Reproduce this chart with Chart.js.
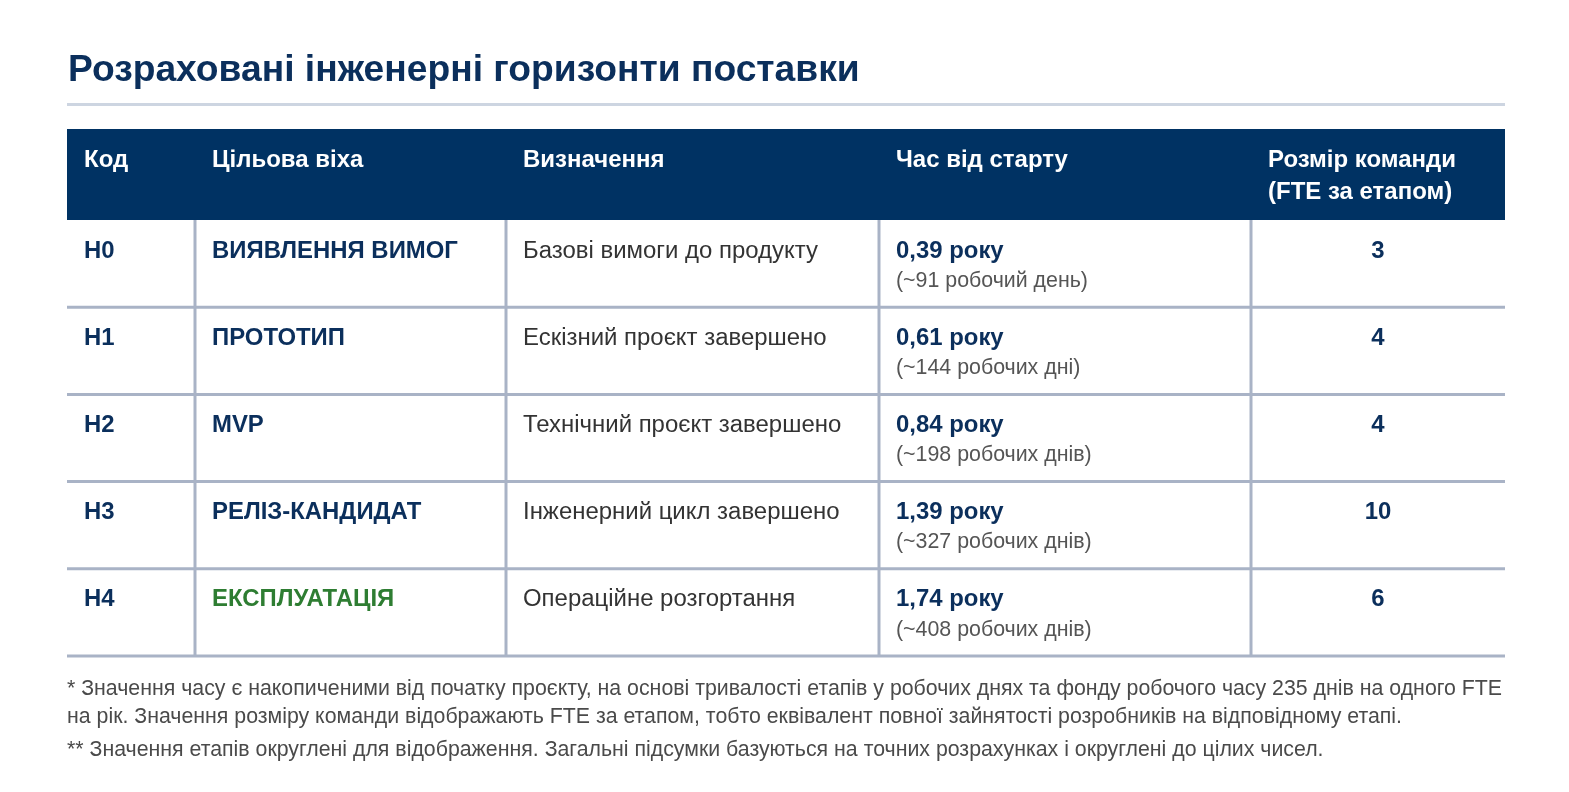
<!DOCTYPE html>
<html>
<head>
<meta charset="utf-8">
<script src="https://cdn.jsdelivr.net/npm/chart.js@4"></script>
<style>
  body { margin: 0; background: #fff; }
</style>
</head>
<body>
<canvas id="tbl" width="1569" height="792"></canvas>
<script>
// table content
const title = 'Розраховані інженерні горизонти поставки';
const headers = [['Код'], ['Цільова віха'], ['Визначення'], ['Час від старту'], ['Розмір команди', '(FTE за етапом)']];
const codes = ['H0', 'H1', 'H2', 'H3', 'H4'];
const milestones = ['ВИЯВЛЕННЯ ВИМОГ', 'ПРОТОТИП', 'MVP', 'РЕЛІЗ-КАНДИДАТ', 'ЕКСПЛУАТАЦІЯ'];
const definitions = ['Базові вимоги до продукту', 'Ескізний проєкт завершено', 'Технічний проєкт завершено', 'Інженерний цикл завершено', 'Операційне розгортання'];
const years = ['0,39 року', '0,61 року', '0,84 року', '1,39 року', '1,74 року'];
const workdays = ['(~91 робочий день)', '(~144 робочих дні)', '(~198 робочих днів)', '(~327 робочих днів)', '(~408 робочих днів)'];
const teamSizes = [3, 4, 4, 10, 6];
const footnotes = [
  '* Значення часу є накопиченими від початку проєкту, на основі тривалості етапів у робочих днях та фонду робочого часу 235 днів на одного FTE',
  'на рік. Значення розміру команди відображають FTE за етапом, тобто еквівалент повної зайнятості розробників на відповідному етапі.',
  '** Значення етапів округлені для відображення. Загальні підсумки базуються на точних розрахунках і округлені до цілих чисел.'
];

// layout
const colEdges = [67, 195, 506, 879, 1251, 1505];
const headTop = 129, bodyTop = 220, rowH = 87.2;
const navy = '#0b2f5c', headBg = '#003263', grid = '#a9b3c6';
const FONT = '"Liberation Sans", Arial, sans-serif';

// pick a font size so that a sample string has the width seen in the reference
function fitSize(ctx, weight, sample, width) {
  ctx.font = weight + ' 20px ' + FONT;
  return 20 * width / ctx.measureText(sample).width;
}

const tablePlugin = {
  id: 'table',
  afterDraw(chart) {
    const ctx = chart.ctx, sx = chart.scales.x, sy = chart.scales.y;
    const X = v => sx.getPixelForValue(v), Y = v => sy.getPixelForValue(v);
    ctx.save();
    const fTitle = 'bold ' + fitSize(ctx, 'bold', title, 792) + 'px ' + FONT;
    const fHead = 'bold ' + fitSize(ctx, 'bold', 'Час від старту', 172) + 'px ' + FONT;
    const fBold = 'bold ' + fitSize(ctx, 'bold', milestones[0], 246) + 'px ' + FONT;
    const fBody = 'normal ' + fitSize(ctx, 'normal', definitions[0], 295) + 'px ' + FONT;
    const fSub = 'normal ' + fitSize(ctx, 'normal', workdays[0], 192) + 'px ' + FONT;
    const fFoot = 'normal ' + fitSize(ctx, 'normal', footnotes[0], 1436) + 'px ' + FONT;
    ctx.textBaseline = 'middle';

    // title + rule
    ctx.fillStyle = navy;
    ctx.font = fTitle;
    ctx.fillText(title, X(68), Y(71));
    ctx.fillStyle = '#cdd5e1';
    ctx.fillRect(X(67), Y(103), X(1505) - X(67), 3);

    // header
    ctx.fillStyle = headBg;
    ctx.fillRect(X(colEdges[0]), Y(headTop), X(colEdges[5]) - X(colEdges[0]), Y(bodyTop) - Y(headTop));
    ctx.fillStyle = '#fff';
    ctx.font = fHead;
    headers.forEach((h, i) => h.forEach((line, j) => ctx.fillText(line, X(colEdges[i] + 17), Y(160 + j * 32))));

    // rows
    const bottom = bodyTop + rowH * codes.length;
    ctx.strokeStyle = grid;
    ctx.lineWidth = 3;
    for (let r = 1; r <= codes.length; r++) {
      ctx.beginPath(); ctx.moveTo(X(colEdges[0]), Y(bodyTop + r * rowH)); ctx.lineTo(X(colEdges[5]), Y(bodyTop + r * rowH)); ctx.stroke();
    }
    for (let c = 1; c < colEdges.length - 1; c++) {
      ctx.beginPath(); ctx.moveTo(X(colEdges[c]), Y(bodyTop)); ctx.lineTo(X(colEdges[c]), Y(bottom)); ctx.stroke();
    }
    codes.forEach((code, r) => {
      const y0 = bodyTop + r * rowH;
      ctx.textAlign = 'left';
      ctx.font = fBold;
      ctx.fillStyle = navy;
      ctx.fillText(code, X(colEdges[0] + 17), Y(y0 + 31));
      ctx.fillStyle = r === codes.length - 1 ? '#2e7d32' : navy;
      ctx.fillText(milestones[r], X(colEdges[1] + 17), Y(y0 + 31));
      ctx.fillStyle = navy;
      ctx.fillText(years[r], X(colEdges[3] + 17), Y(y0 + 31));
      ctx.textAlign = 'center';
      ctx.fillText(String(teamSizes[r]), X((colEdges[4] + colEdges[5]) / 2), Y(y0 + 31));
      ctx.textAlign = 'left';
      ctx.font = fBody;
      ctx.fillStyle = '#333';
      ctx.fillText(definitions[r], X(colEdges[2] + 17), Y(y0 + 31));
      ctx.font = fSub;
      ctx.fillStyle = '#555';
      ctx.fillText(workdays[r], X(colEdges[3] + 17), Y(y0 + 61));
    });

    // footnotes
    ctx.font = fFoot;
    ctx.fillStyle = '#4a4a4a';
    [689, 717, 750].forEach((y, i) => ctx.fillText(footnotes[i], X(67), Y(y)));
    ctx.restore();
  }
};

new Chart(document.getElementById('tbl'), {
  type: 'scatter',
  data: { datasets: [{ data: [] }] },
  options: {
    responsive: false,
    animation: false,
    layout: { padding: 0 },
    plugins: { legend: { display: false }, tooltip: { enabled: false } },
    scales: {
      x: { type: 'linear', min: 0, max: 1569, display: false },
      y: { type: 'linear', min: 0, max: 792, reverse: true, display: false }
    }
  },
  plugins: [tablePlugin]
});
</script>
</body>
</html>
